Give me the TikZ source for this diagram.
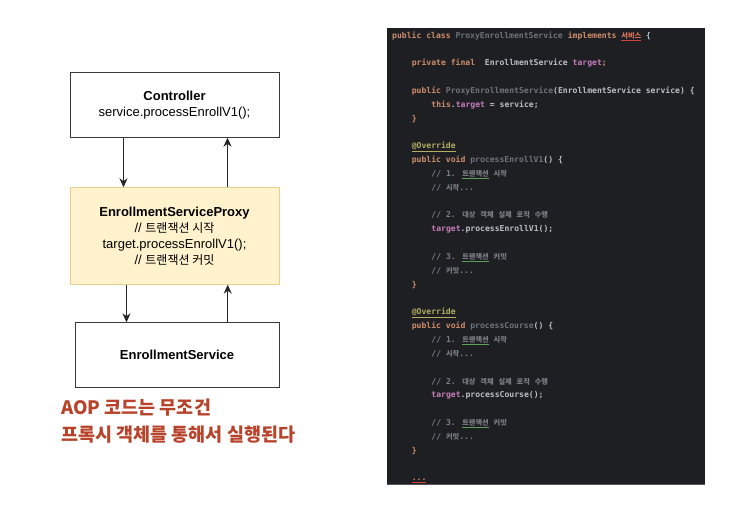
\documentclass[tikz,border=0pt]{standalone}
\usepackage{fontspec}
\setmainfont{Liberation Sans}
\newfontfamily\krfont{Noto Sans CJK KR}
\newfontfamily\monofont{DejaVu Sans Mono}
\usetikzlibrary{positioning,arrows.meta}

\definecolor{boxline}{HTML}{3A3A3A}
\definecolor{proxyfill}{HTML}{FFF2CC}
\definecolor{proxyline}{HTML}{E3CF8E}
\definecolor{notered}{HTML}{B8432B}
\definecolor{codebg}{HTML}{1E1F22}
\definecolor{panelline}{HTML}{55575C}
\definecolor{kwc}{HTML}{CF8E6D}
\definecolor{txc}{HTML}{BCBEC4}
\definecolor{dimc}{HTML}{6F737A}
\definecolor{fldc}{HTML}{C77DBB}
\definecolor{cmc}{HTML}{7A7E85}
\definecolor{annc}{HTML}{B3AE60}
\definecolor{errc}{HTML}{E0735B}
\definecolor{typoc}{HTML}{5E9E5A}
\definecolor{wavyred}{HTML}{D0453A}

% korean inside the boxes and inside the code
\newcommand\krbox[1]{{\krfont\fontsize{12}{16}\selectfont #1}}
\newcommand\kc[1]{{\krfont\fontsize{7.2}{10}\selectfont #1}}
% code colours
\newcommand\kw[1]{\textcolor{kwc}{#1}}
\newcommand\dm[1]{\textcolor{dimc}{#1}}
\newcommand\fl[1]{\textcolor{fldc}{#1}}
\newcommand\cm[1]{\textcolor{cmc}{#1}}
\newcommand\squig[2]{{\color{#1}\underline{#2}}}
% one code line: line number, indent level, text
\newcommand\codeln[3]{\node[codeline] (ln#1) at ({392+19.6*#2},{38+13.84*#1}) {#3};}

\begin{document}
\begin{tikzpicture}[x=1pt,y=-1pt,
    box/.style={draw=boxline, line width=0.9pt, minimum width=209pt, inner sep=0pt,
      align=center, font=\fontsize{13}{16}\selectfont},
    flow/.style={draw=black!85, line width=0.9pt, -{Stealth[length=9pt,width=8pt]}},
    redtxt/.style={anchor=base west, inner sep=0pt, text=notered,
      font=\krfont\bfseries\fontsize{18.5}{22}\selectfont},
    codeline/.style={anchor=base west, inner sep=0pt, text=txc,
      font=\monofont\bfseries\fontsize{8.1}{10}\selectfont}]
    \useasboundingbox (0,0) rectangle (742,517);

    % call chain
    \node[box, minimum height=64.5pt] (ctrl) at (174.5,105)
      {\textbf{Controller}\\service.processEnrollV1();};
    \node[box, fill=proxyfill, draw=proxyline, minimum height=96.5pt] (proxy) at (174.5,236)
      {\textbf{EnrollmentServiceProxy}\\// \krbox{트랜잭션 시작}\\target.processEnrollV1();\\// \krbox{트랜잭션 커밋}};
    \node[box, minimum width=204pt, minimum height=64.5pt] (svc) at (177,355)
      {\textbf{EnrollmentService}};

    \draw[flow] ([xshift=-51pt]ctrl.south) -- ([xshift=-51pt]ctrl.south |- proxy.north);
    \draw[flow] ([xshift=53pt]proxy.north) -- ([xshift=53pt]proxy.north |- ctrl.south);
    \draw[flow] ([xshift=-48pt]proxy.south) -- ([xshift=-48pt]proxy.south |- svc.north);
    \draw[flow] ([xshift=50.7pt]svc.north) -- ([xshift=50.7pt]svc.north |- proxy.south);

    \node[redtxt] (aop) at (61,414.5) {AOP 코드는 무조건};
    \node[redtxt] (note) at (61,441) {프록시 객체를 통해서 실행된다};

    % code panel
    \fill[codebg] (387,27.5) rectangle (705,484);
    \draw[panelline, line width=1pt] (387,484) -- (705,484);

    \codeln{0}{0}{\kw{public class} \dm{ProxyEnrollmentService} \kw{implements} \squig{wavyred}{\textcolor{errc}{\kc{서비스}}} \{}
    \codeln{2}{1}{\kw{private final}\ \ EnrollmentService \fl{target}\kw{;}}
    \codeln{4}{1}{\kw{public} \dm{ProxyEnrollmentService}(EnrollmentService service) \{}
    \codeln{5}{2}{\kw{this}.\fl{target} = service;}
    \codeln{6}{1}{\kw{\}}}
    \codeln{8}{1}{\squig{annc}{\textcolor{annc}{@Override}}}
    \codeln{9}{1}{\kw{public void} \dm{processEnrollV1}() \{}
    \codeln{10}{2}{\cm{// 1. \squig{typoc}{\cm{\kc{트랜잭션}}} \kc{시작}}}
    \codeln{11}{2}{\cm{// \kc{시작}...}}
    \codeln{13}{2}{\cm{// 2. \kc{대상} \kc{객체} \kc{실제} \kc{로직} \kc{수행}}}
    \codeln{14}{2}{\fl{target}.processEnrollV1();}
    \codeln{16}{2}{\cm{// 3. \squig{typoc}{\cm{\kc{트랜잭션}}} \kc{커밋}}}
    \codeln{17}{2}{\cm{// \kc{커밋}...}}
    \codeln{18}{1}{\kw{\}}}
    \codeln{20}{1}{\squig{annc}{\textcolor{annc}{@Override}}}
    \codeln{21}{1}{\kw{public void} \dm{processCourse}() \{}
    \codeln{22}{2}{\cm{// 1. \squig{typoc}{\cm{\kc{트랜잭션}}} \kc{시작}}}
    \codeln{23}{2}{\cm{// \kc{시작}...}}
    \codeln{25}{2}{\cm{// 2. \kc{대상} \kc{객체} \kc{실제} \kc{로직} \kc{수행}}}
    \codeln{26}{2}{\fl{target}.processCourse();}
    \codeln{28}{2}{\cm{// 3. \squig{typoc}{\cm{\kc{트랜잭션}}} \kc{커밋}}}
    \codeln{29}{2}{\cm{// \kc{커밋}...}}
    \codeln{30}{1}{\kw{\}}}
    \codeln{32}{1}{\squig{wavyred}{\kw{...}}}
\end{tikzpicture}
\end{document}
